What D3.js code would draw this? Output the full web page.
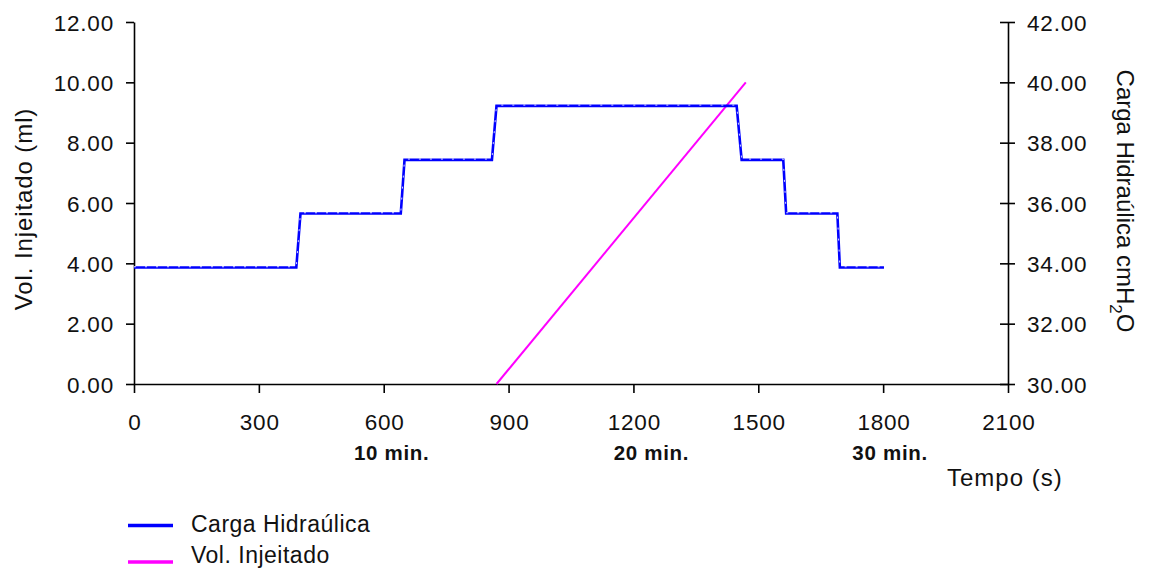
<!DOCTYPE html>
<html>
<head>
<meta charset="utf-8">
<script src="https://cdn.jsdelivr.net/npm/d3@7"></script>
<style>
  html, body { margin: 0; padding: 0; background: #fff; }
  svg { display: block; font-family: "Liberation Sans", Arial, sans-serif; }
</style>
</head>
<body>
<svg id="chart" width="1151" height="569"></svg>
<script>
// Time (s) and hydraulic head (cmH2O) of the stepped loading test
const headTime  = [0, 390, 400, 641, 650, 860, 871, 1448, 1460, 1560, 1567, 1690, 1696, 1802];
const headValue = [33.86, 33.86, 35.65, 35.65, 37.43, 37.43, 39.22, 39.22, 37.43, 37.43, 35.65, 35.65, 33.86, 33.86];

// Injected volume (ml) over time (s)
const volTime  = [871, 1470];
const volValue = [0, 10];

// Axis ticks
const xTicks      = [0, 300, 600, 900, 1200, 1500, 1800, 2100];
const leftTicks   = [0, 2, 4, 6, 8, 10, 12];
const rightTicks  = [30, 32, 34, 36, 38, 40, 42];
const minuteMarks = [600, 1200, 1800];
const minuteText  = ["10 min.", "20 min.", "30 min."];

const seriesNames = ["Carga Hidraúlica", "Vol. Injeitado"];
const seriesColors = ["#0000ff", "#ff00ff"];

const svg = d3.select("#chart");

const x  = d3.scaleLinear().domain([0, 2100]).range([134, 1008]);
const yL = d3.scaleLinear().domain([0, 12]).range([384, 22]);
const yR = d3.scaleLinear().domain([30, 42]).range([384, 22]);

const fmt = d3.format(".2f");

function styleAxis(g) {
  g.select(".domain").attr("stroke", "#000").attr("stroke-width", 1.6);
  g.selectAll(".tick line").attr("stroke", "#000").attr("stroke-width", 1.6);
  g.selectAll(".tick text")
    .attr("fill", "#111")
    .style("font-size", "22.5px")
    .style("letter-spacing", "0.8px")
    .style("font-family", "'Liberation Sans', Arial, sans-serif");
}

// Left axis: injected volume
const gL = svg.append("g")
  .attr("transform", "translate(134,0)")
  .call(d3.axisLeft(yL).tickValues(leftTicks).tickFormat(fmt)
    .tickSizeInner(8).tickSizeOuter(0).tickPadding(12));
styleAxis(gL);
gL.selectAll(".tick text").attr("dy", "0.36em");

// Right axis: hydraulic head, ticks crossing the axis line
const gR = svg.append("g")
  .attr("transform", "translate(1008,0)")
  .call(d3.axisRight(yR).tickValues(rightTicks).tickFormat(fmt)
    .tickSizeInner(7).tickSizeOuter(0).tickPadding(12));
styleAxis(gR);
gR.selectAll(".tick line").attr("x1", -8).attr("x2", 7);
gR.selectAll(".tick text").attr("dy", "0.36em");

// Bottom axis: time
const gX = svg.append("g")
  .attr("transform", "translate(0,384)")
  .call(d3.axisBottom(x).tickValues(xTicks).tickFormat(d3.format("d"))
    .tickSizeInner(9).tickSizeOuter(0));
styleAxis(gX);
gX.selectAll(".tick text").attr("y", 46).attr("dy", 0).attr("dx", 0.4);

// Minute markers under the time axis
const minuteShift = [8, 18, 7];
svg.append("g").selectAll("text")
  .data(minuteMarks)
  .join("text")
  .attr("x", (d, i) => x(d) + minuteShift[i])
  .attr("y", 460)
  .attr("text-anchor", "middle")
  .style("font-size", "20.5px")
  .style("font-weight", "bold")
  .style("letter-spacing", "0.7px")
  .attr("fill", "#111")
  .text((d, i) => minuteText[i]);

// Axis titles
svg.append("text")
  .attr("x", 947).attr("y", 486)
  .style("font-size", "24px")
  .style("letter-spacing", "1px")
  .attr("fill", "#111")
  .text("Tempo (s)");

svg.append("text")
  .attr("transform", "translate(32,209) rotate(-90)")
  .attr("text-anchor", "middle")
  .style("font-size", "24px")
  .style("letter-spacing", "0.9px")
  .attr("fill", "#111")
  .text("Vol. Injeitado (ml)");

const rt = svg.append("text")
  .attr("transform", "translate(1117,201) rotate(90)")
  .attr("text-anchor", "middle")
  .style("font-size", "24px").attr("fill", "#111");
rt.append("tspan").text("Carga Hidraúlica cmH");
rt.append("tspan").attr("dy", 7).style("font-size", "17px").text("2");
rt.append("tspan").attr("dy", -7).text("O");

// Series
const headData = headTime.map((t, i) => [t, headValue[i]]);
const volData  = volTime.map((t, i) => [t, volValue[i]]);

const headLine = d3.line().x(d => x(d[0])).y(d => yR(d[1]));
const volLine  = d3.line().x(d => x(d[0])).y(d => yL(d[1]));

svg.append("path")
  .datum(volData)
  .attr("d", volLine)
  .attr("fill", "none")
  .attr("stroke", seriesColors[1])
  .attr("stroke-width", 2);

svg.append("path")
  .datum(headData)
  .attr("d", headLine)
  .attr("fill", "none")
  .attr("stroke", seriesColors[0])
  .attr("stroke-width", 2.6);

// fine light dashes along the head line
svg.append("path")
  .datum(headData)
  .attr("d", headLine)
  .attr("transform", "translate(0,-0.8)")
  .attr("fill", "none")
  .attr("stroke", "#eef1ff")
  .attr("stroke-width", 0.9)
  .attr("stroke-dasharray", "2 9");

// Legend
const legend = svg.append("g");
const legendLineY = [525.5, 562];
const legendTextY = [531.5, 563];
seriesNames.forEach((name, i) => {
  legend.append("line")
    .attr("x1", 128).attr("x2", 173)
    .attr("y1", legendLineY[i]).attr("y2", legendLineY[i])
    .attr("stroke", seriesColors[i]).attr("stroke-width", 3.5);
  legend.append("text")
    .attr("x", 191).attr("y", legendTextY[i])
    .style("font-size", "23px")
    .style("letter-spacing", "0.5px")
    .attr("fill", "#111")
    .text(name);
});
</script>
</body>
</html>
